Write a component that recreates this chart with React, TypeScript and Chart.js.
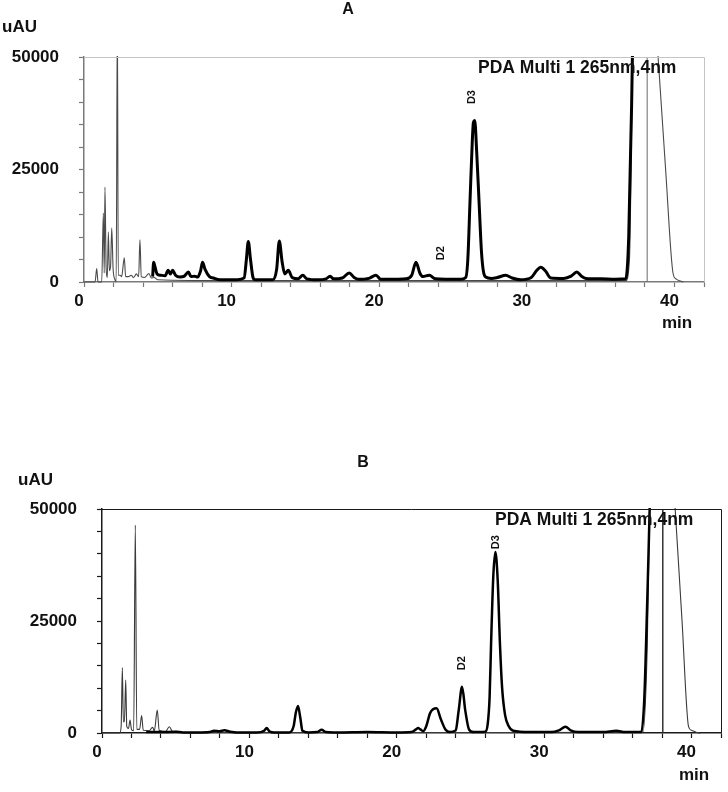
import React, { useEffect, useRef } from "react";
import { Chart, registerables } from "chart.js";

Chart.register(...registerables);

// ---------------- DATA ----------------
const xMax = 42; // min
const yMax = 50000; // uAU
const xStep = 2;
const yStep = 5000;
const xLabelEvery = 10;
const yLabelEvery = 25000;

// Panel A – thin (grey) trace [min, uAU]
const aThin: [number, number][] = [
  [0, 0], [0.75, 0], [0.86, 3000], [0.95, 0], [1.2, 0], [1.31, 15300], [1.37, 2000],
  [1.42, 21100], [1.5, 3000], [1.58, 1000], [1.65, 11100], [1.72, 2500], [1.8, 3500],
  [1.88, 12000], [1.97, 3000], [2.1, 500], [2.18, 0], [2.26, 60000], [2.32, 1500],
  [2.45, 1500], [2.55, 1200], [2.73, 5400], [2.82, 1200], [3.0, 1200], [3.2, 1500],
  [3.35, 1000], [3.55, 1800], [3.7, 1200], [3.79, 9400], [3.88, 1200], [4.1, 1000],
  [4.4, 1900], [4.55, 900], [4.75, 1000], [5.0, 500], [10, 300], [20, 300], [30, 300],
  [36.7, 300], [36.95, 5000], [37.15, 50000], [37.3, 90000], [38.6, 64000],
  [38.85, 52000], [39.4, 25000], [39.9, 2000], [40.1, 700], [40.4, 200], [40.6, 0],
];

// Panel A – thick (black) trace
const aThick: [number, number][] = [
  [4.65, 1200], [4.72, 4400], [4.8, 3500], [4.95, 1800], [5.2, 1500], [5.5, 1400],
  [5.7, 2600], [5.85, 1800], [6.0, 2600], [6.2, 1500], [6.5, 1100], [6.8, 1300],
  [7.07, 2200], [7.25, 1200], [7.5, 1300], [7.7, 1100], [7.9, 2500], [8.03, 4400],
  [8.2, 2800], [8.5, 1200], [8.76, 900], [9.2, 500], [9.8, 500], [10.4, 500],
  [10.85, 900], [11.0, 5000], [11.13, 9000], [11.28, 5000], [11.45, 1000], [11.6, 500],
  [12.2, 500], [12.8, 500], [13.05, 2800], [13.23, 9100], [13.42, 4500], [13.6, 1800],
  [13.84, 2600], [14.1, 1000], [14.5, 700], [14.82, 1500], [15.1, 700], [15.8, 500],
  [16.4, 700], [16.67, 1300], [16.9, 700], [17.5, 900], [17.97, 2000], [18.3, 1000],
  [18.6, 600], [19.3, 800], [19.78, 1500], [20.1, 600], [21.0, 600], [21.8, 700],
  [22.2, 1500], [22.49, 4400], [22.75, 2000], [22.95, 1200], [23.39, 1500], [23.8, 700],
  [24.5, 600], [25.5, 600], [25.86, 1000], [26.0, 5000], [26.15, 18000], [26.3, 31000],
  [26.38, 35500], [26.47, 35900], [26.6, 29000], [26.76, 18000], [26.92, 7000],
  [27.05, 2500], [27.21, 1100], [27.6, 800], [28.0, 1000], [28.57, 1500], [29.0, 900],
  [29.58, 500], [30.3, 1000], [30.65, 2500], [30.94, 3300], [31.25, 2500], [31.62, 900],
  [32.5, 800], [33.0, 1300], [33.38, 2200], [33.7, 1300], [34.0, 800], [35.0, 700],
  [36.0, 600], [36.7, 700], [36.9, 10000], [37.1, 40000], [37.25, 70000], [37.4, 100000],
];

// Panel B – thin (grey) trace
const bThin: [number, number][] = [
  [0, 0], [1.2, 0], [1.3, 1500], [1.38, 14600], [1.45, 2500], [1.52, 2500],
  [1.61, 11800], [1.68, 1500], [1.8, 1000], [1.9, 2900], [2.0, 800], [2.15, 500],
  [2.26, 46400], [2.36, 800], [2.55, 800], [2.69, 3900], [2.8, 600], [3.2, 500],
  [3.43, 1300], [3.55, 500], [3.75, 5100], [3.88, 600], [4.3, 300], [4.57, 1400],
  [4.8, 300], [5.06, 400], [5.3, 100], [10, 100], [20, 100], [30, 100], [36.7, 200],
  [37.0, 20000], [37.2, 60000], [37.4, 90000], [38.6, 65500], [38.89, 50000],
  [39.35, 25400], [39.8, 1400], [40.0, 600], [40.36, 100], [40.6, 0],
];

// Panel B – thick (black) trace
const bThick: [number, number][] = [
  [3.0, 200], [4.0, 200], [5.0, 300], [5.5, 100], [6.5, 100], [7.3, 200], [7.6, 500],
  [8.0, 400], [8.3, 600], [8.7, 300], [9.5, 100], [10.5, 100], [11.0, 500], [11.17, 1100],
  [11.35, 400], [11.7, 100], [12.7, 100], [13.0, 1500], [13.15, 4500], [13.3, 6000],
  [13.45, 3500], [13.6, 500], [14.0, 100], [14.6, 200], [14.9, 700], [15.2, 200],
  [16.0, 100], [18.0, 200], [20.0, 100], [21.0, 200], [21.3, 800], [21.45, 1100],
  [21.6, 800], [21.8, 400], [22.0, 1500], [22.27, 4500], [22.7, 5500], [23.0, 3000],
  [23.3, 800], [23.6, 200], [24.0, 600], [24.2, 5000], [24.43, 10300], [24.65, 5000],
  [24.9, 800], [25.2, 200], [26.0, 300], [26.17, 2000], [26.3, 8000], [26.4, 20000],
  [26.55, 35000], [26.69, 40400], [26.85, 34000], [27.0, 20000], [27.15, 10000],
  [27.35, 4000], [27.6, 1500], [27.9, 500], [29.0, 200], [30.5, 200], [31.0, 600],
  [31.45, 1400], [31.8, 600], [32.3, 200], [34.0, 200], [34.9, 500], [35.5, 200],
  [36.6, 200], [36.8, 8000], [37.0, 30000], [37.2, 55000], [37.35, 80000], [37.5, 100000],
];

// Vertical marker (min)
const markerA = 38.15;
const markerB = 38.05;

// Peak labels [text, min, uAU]
const peakLabelsA: [string, number, number][] = [["D2", 24.2, 6400], ["D3", 26.25, 41100]];
const peakLabelsB: [string, number, number][] = [["D2", 24.41, 15600], ["D3", 26.71, 42600]];

const panelTitles = ["A", "B"];
const yUnit = "uAU";
const xUnit = "min";
const detector = "PDA Multi 1 265nm,4nm";

// ---------------- RENDER ----------------
const FONT = "'Liberation Sans', Arial, Helvetica, sans-serif";

type Panel = {
  title: string;
  thin: [number, number][];
  thick: [number, number][];
  marker: number;
  peaks: [string, number, number][];
  width: number;
  height: number;
  area: { left: number; top: number; right: number; bottom: number };
  axisColor: string;
  boxColor: string;
  thinColor: string;
  thickWidth: number;
  markerColor: string;
  markerWidth: number;
  text: {
    title: [number, number];
    yUnit: [number, number];
    xUnit: [number, number];
    det: [number, number];
  };
};

const panels: Panel[] = [
  {
    title: panelTitles[0],
    thin: aThin,
    thick: aThick,
    marker: markerA,
    peaks: peakLabelsA,
    width: 728,
    height: 400,
    area: { left: 84, top: 57, right: 704, bottom: 282 },
    axisColor: "#7a7a7a",
    boxColor: "#c4c4c4",
    thinColor: "#4a4a4a",
    thickWidth: 3,
    markerColor: "#6a6a6a",
    markerWidth: 1,
    text: { title: [348, 10], yUnit: [2, 27], xUnit: [662, 323], det: [478, 68] },
  },
  {
    title: panelTitles[1],
    thin: bThin,
    thick: bThick,
    marker: markerB,
    peaks: peakLabelsB,
    width: 728,
    height: 392,
    area: { left: 102, top: 109, right: 721, bottom: 333 },
    axisColor: "#1a1a1a",
    boxColor: "#1a1a1a",
    thinColor: "#3a3a3a",
    thickWidth: 2.5,
    markerColor: "#333333",
    markerWidth: 1.5,
    text: { title: [363, 63], yUnit: [18, 80], xUnit: [679, 375], det: [495, 120] },
  },
];

function makeOverlay(p: Panel) {
  return {
    id: "overlay" + p.title,
    beforeDatasetsDraw(chart: any) {
      const { ctx, chartArea, scales } = chart;
      const x = scales.x.getPixelForValue(p.marker);
      ctx.save();
      ctx.strokeStyle = p.markerColor;
      ctx.lineWidth = p.markerWidth;
      ctx.beginPath();
      ctx.moveTo(x, chartArea.top);
      ctx.lineTo(x, chartArea.bottom);
      ctx.stroke();
      ctx.restore();
    },
    afterDraw(chart: any) {
      const { ctx, chartArea, scales } = chart;
      ctx.save();
      ctx.strokeStyle = p.boxColor;
      ctx.lineWidth = 1;
      ctx.beginPath();
      ctx.moveTo(chartArea.left, chartArea.top + 0.5);
      ctx.lineTo(chartArea.right + 0.5, chartArea.top + 0.5);
      ctx.lineTo(chartArea.right + 0.5, chartArea.bottom);
      ctx.stroke();

      ctx.fillStyle = "#111";
      ctx.textBaseline = "middle";
      ctx.font = `bold 16px ${FONT}`;
      ctx.textAlign = "center";
      ctx.fillText(p.title, p.text.title[0], p.text.title[1]);
      ctx.textAlign = "left";
      ctx.font = `bold 17px ${FONT}`;
      ctx.fillText(yUnit, p.text.yUnit[0], p.text.yUnit[1]);
      ctx.fillText(xUnit, p.text.xUnit[0], p.text.xUnit[1]);
      ctx.font = `bold 17.5px ${FONT}`;
      ctx.fillText(detector, p.text.det[0], p.text.det[1]);

      ctx.font = `bold 11px ${FONT}`;
      ctx.textAlign = "center";
      for (const [t, xv, yv] of p.peaks) {
        const px = scales.x.getPixelForValue(xv);
        const py = scales.y.getPixelForValue(yv);
        ctx.save();
        ctx.translate(px, py);
        ctx.rotate(-Math.PI / 2);
        ctx.fillText(t, 0, 0);
        ctx.restore();
      }
      ctx.restore();
    },
  };
}

function ChromPanel({ p, top }: { p: Panel; top: number }) {
  const ref = useRef<HTMLCanvasElement | null>(null);
  useEffect(() => {
    if (!ref.current) return;
    const a = p.area;
    const chart = new Chart(ref.current, {
      type: "line",
      data: {
        datasets: [
          {
            data: p.thick.map(([x, y]) => ({ x, y })),
            borderColor: "#000",
            borderWidth: p.thickWidth,
            pointRadius: 0,
            cubicInterpolationMode: "monotone",
            clip: 1,
            order: 0,
          },
          {
            data: p.thin.map(([x, y]) => ({ x, y })),
            borderColor: p.thinColor,
            borderWidth: 1.1,
            pointRadius: 0,
            cubicInterpolationMode: "monotone",
            clip: 1,
            order: 1,
          },
        ],
      },
      options: {
        animation: false,
        responsive: false,
        events: [],
        layout: { padding: { top: a.top, right: p.width - a.right, left: 0, bottom: 0 } },
        plugins: { legend: { display: false }, tooltip: { enabled: false } },
        scales: {
          x: {
            type: "linear",
            min: 0,
            max: xMax,
            afterFit: (s: any) => {
              s.height = p.height - a.bottom;
            },
            border: { color: p.axisColor, width: 1.5 },
            grid: {
              drawOnChartArea: false,
              drawTicks: true,
              tickLength: 5,
              color: p.axisColor,
              tickWidth: 1.2,
            },
            ticks: {
              stepSize: xStep,
              autoSkip: false,
              includeBounds: false,
              maxRotation: 0,
              padding: 4,
              labelOffset: -5,
              color: "#111",
              font: { family: FONT, size: 17, weight: "bold" },
              callback: (v: any) => (Number(v) % xLabelEvery === 0 ? String(v) : ""),
            },
          },
          y: {
            type: "linear",
            min: 0,
            max: yMax,
            afterFit: (s: any) => {
              s.width = a.left;
            },
            border: { color: p.axisColor, width: 1.5 },
            grid: {
              drawOnChartArea: false,
              drawTicks: true,
              tickLength: 5,
              color: p.axisColor,
              tickWidth: 1.2,
            },
            ticks: {
              stepSize: yStep,
              autoSkip: false,
              padding: 20,
              color: "#111",
              font: { family: FONT, size: 17, weight: "bold" },
              callback: (v: any) => (Number(v) % yLabelEvery === 0 ? String(v) : ""),
            },
          },
        },
      },
      plugins: [makeOverlay(p)],
    } as any);
    return () => chart.destroy();
  }, [p]);
  return (
    <canvas
      ref={ref}
      width={p.width}
      height={p.height}
      style={{ position: "absolute", left: 0, top, width: p.width, height: p.height }}
    />
  );
}

export default function App() {
  return (
    <div style={{ position: "absolute", left: 0, top: 0, width: 728, height: 792, background: "#fff" }}>
      <ChromPanel p={panels[0]} top={0} />
      <ChromPanel p={panels[1]} top={400} />
    </div>
  );
}
